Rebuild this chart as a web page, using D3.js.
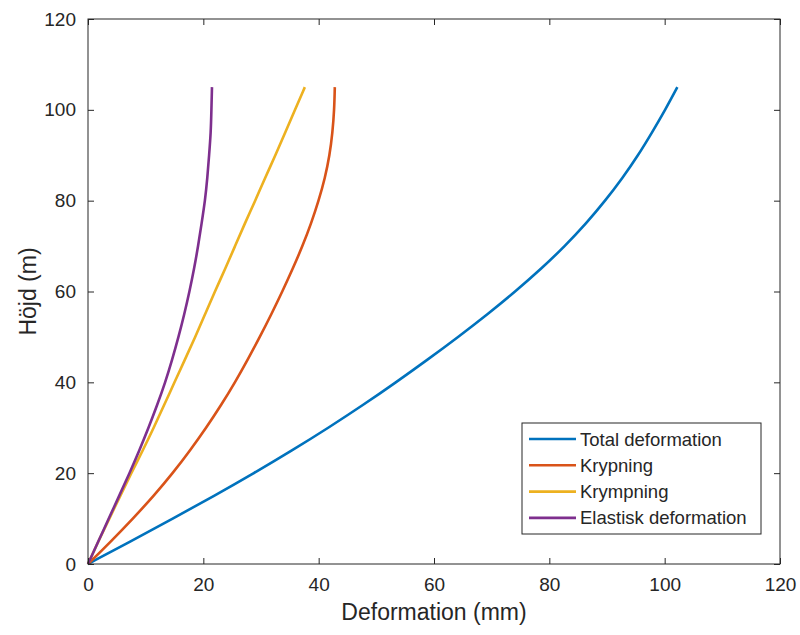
<!DOCTYPE html>
<html>
<head>
<meta charset="utf-8">
<script src="https://cdn.jsdelivr.net/npm/d3@7"></script>
<style>
  body { margin: 0; background: #fff; }
  svg { display: block; font-family: "Liberation Sans", Arial, Helvetica, sans-serif; }
</style>
</head>
<body>
<div id="chart"></div>
<script>
// höjd (m)
const heights = [0, 5, 10, 15, 20, 25, 30, 35, 40, 45, 50, 55, 60, 65, 70, 75, 80, 85, 90, 95, 100, 105];

// deformation (mm) per höjd
const totalDeformation = [0, 7.4, 14.7, 21.9, 28.8, 35.4, 41.7, 47.7, 53.4, 58.9, 64.2, 69.3, 74.1, 78.6, 82.7, 86.4, 89.7, 92.7, 95.4, 97.8, 100.1, 102.2];
const krypning = [0, 4.0, 7.8, 11.4, 14.7, 17.7, 20.5, 23.1, 25.5, 27.7, 29.8, 31.8, 33.7, 35.5, 37.2, 38.7, 40.0, 41.1, 41.9, 42.4, 42.7, 42.8];
const krympning = [0, 1.8, 3.7, 5.6, 7.5, 9.5, 11.4, 13.2, 15.0, 16.8, 18.6, 20.3, 22.0, 23.8, 25.5, 27.2, 29.0, 30.7, 32.5, 34.2, 35.9, 37.6];
const elastisk = [0, 1.8, 3.6, 5.4, 7.2, 8.9, 10.5, 12.0, 13.4, 14.6, 15.7, 16.7, 17.6, 18.4, 19.1, 19.7, 20.3, 20.7, 21.0, 21.3, 21.4, 21.5];

const seriesNames = ['Total deformation', 'Krypning', 'Krympning', 'Elastisk deformation'];
const seriesColors = ['#0072BD', '#D95319', '#EDB120', '#7E2F8E'];
const xTicks = [0, 20, 40, 60, 80, 100, 120];
const yTicks = [0, 20, 40, 60, 80, 100, 120];

const width = 800;
const height = 635;
const margin = { top: 19, right: 20, bottom: 71, left: 88 };
const innerW = width - margin.left - margin.right;
const innerH = height - margin.top - margin.bottom;
const axisColor = '#262626';

const svg = d3.select('#chart').append('svg')
  .attr('width', width)
  .attr('height', height);

const g = svg.append('g')
  .attr('transform', `translate(${margin.left},${margin.top})`);

const x = d3.scaleLinear().domain([0, 120]).range([0, innerW]);
const y = d3.scaleLinear().domain([0, 120]).range([innerH, 0]);

// linjer
const allSeries = [totalDeformation, krypning, krympning, elastisk];
const line = d3.line()
  .x(d => x(d[0]))
  .y(d => y(d[1]))
  .curve(d3.curveBasis);

allSeries.forEach((vals, i) => {
  g.append('path')
    .datum(vals.map((v, j) => [v, heights[j]]))
    .attr('fill', 'none')
    .attr('stroke', seriesColors[i])
    .attr('stroke-width', 2.6)
    .attr('stroke-linejoin', 'round')
    .attr('d', line);
});

// axlar (ticks inåt, box)
function styleAxis(sel, labels) {
  sel.select('.domain').remove();
  sel.selectAll('.tick line').attr('stroke', axisColor);
  sel.selectAll('.tick text')
    .attr('fill', axisColor)
    .style('font-size', '19px');
  if (!labels) sel.selectAll('.tick text').remove();
}

g.append('g')
  .attr('transform', `translate(0,${innerH})`)
  .call(d3.axisBottom(x).tickValues(xTicks).tickSize(-6).tickPadding(14).tickFormat(d3.format('d')))
  .call(s => styleAxis(s, true));

g.append('g')
  .call(d3.axisTop(x).tickValues(xTicks).tickSize(-6))
  .call(s => styleAxis(s, false));

g.append('g')
  .call(d3.axisLeft(y).tickValues(yTicks).tickSize(-6).tickPadding(12).tickFormat(d3.format('d')))
  .call(s => styleAxis(s, true));

g.append('g')
  .attr('transform', `translate(${innerW},0)`)
  .call(d3.axisRight(y).tickValues(yTicks).tickSize(-6))
  .call(s => styleAxis(s, false));

g.append('rect')
  .attr('width', innerW)
  .attr('height', innerH)
  .attr('fill', 'none')
  .attr('stroke', axisColor)
  .attr('stroke-width', 1);

// axeltitlar
svg.append('text')
  .attr('x', margin.left + innerW / 2)
  .attr('y', 620)
  .attr('text-anchor', 'middle')
  .attr('fill', axisColor)
  .style('font-size', '23px')
  .text('Deformation (mm)');

svg.append('text')
  .attr('transform', `translate(36,${margin.top + innerH / 2}) rotate(-90)`)
  .attr('text-anchor', 'middle')
  .attr('fill', axisColor)
  .style('font-size', '23px')
  .text('Höjd (m)');

// legend
const legend = svg.append('g').attr('transform', 'translate(522,423)');
legend.append('rect')
  .attr('width', 239)
  .attr('height', 111)
  .attr('fill', '#fff')
  .attr('stroke', axisColor)
  .attr('stroke-width', 1);

seriesNames.forEach((name, i) => {
  const row = legend.append('g').attr('transform', `translate(0,${16 + i * 26.3})`);
  row.append('line')
    .attr('x1', 7).attr('x2', 54)
    .attr('stroke', seriesColors[i])
    .attr('stroke-width', 2.6);
  row.append('text')
    .attr('x', 58)
    .attr('y', 6.5)
    .attr('fill', axisColor)
    .style('font-size', '18.5px')
    .text(name);
});
</script>
</body>
</html>
